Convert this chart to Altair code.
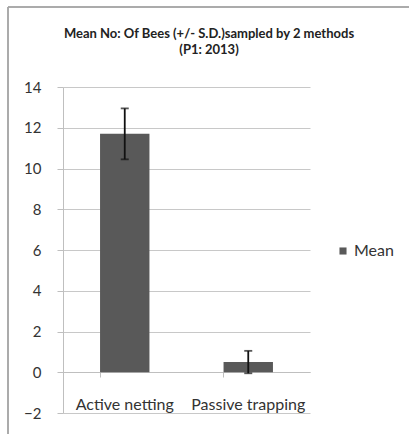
import altair as alt
import pandas as pd

categories = ["Active netting", "Passive trapping"]
means = [11.7, 0.5]
sds = [1.25, 0.55]
series_name = ["Mean", "Mean"]
y_ticks = [-2, 0, 2, 4, 6, 8, 10, 12, 14]
title_lines = ["Mean No: Of Bees (+/- S.D.)sampled by 2 methods", "(P1: 2013)"]

df = pd.DataFrame({
    "cat": categories,
    "mean": means,
    "lo": [m - s for m, s in zip(means, sds)],
    "hi": [m + s for m, s in zip(means, sds)],
    "series": series_name,
    "labely": [-1.6, -1.6],
})
t1 = pd.DataFrame({"t": [title_lines[0]]})
t2 = pd.DataFrame({"t": [title_lines[1]]})

FONT = "Lato"
W, H = 247, 326

xenc = alt.X("cat:N", sort=categories,
             scale=alt.Scale(paddingInner=0.6, paddingOuter=0.3),
             axis=alt.Axis(title=None, labels=False, offset=-41, bandPosition=0,
                           domainColor="#bfbfbf", tickColor="#bfbfbf", tickSize=5,
                           grid=False))
yscale = alt.Scale(domain=[-2, 14], nice=False)

bars = alt.Chart(df).mark_bar(color="#595959").encode(
    x=xenc,
    y=alt.Y("mean:Q", scale=yscale,
            axis=alt.Axis(title=None, values=y_ticks, grid=True, gridColor="#c8c8c8",
                          domainColor="#bfbfbf", tickColor="#bfbfbf", tickSize=6,
                          labelFont=FONT, labelFontSize=15, labelColor="#333333",
                          labelPadding=16)),
    y2=alt.Y2(datum=0),
    color=alt.Color("series:N", scale=alt.Scale(range=["#595959"]),
                    legend=alt.Legend(title=None, orient="none", legendX=272, legendY=156,
                                      symbolType="square", symbolSize=50,
                                      symbolStrokeWidth=0, labelOffset=3,
                                      labelFont=FONT, labelFontSize=16,
                                      labelColor="#333333")),
)

err = alt.Chart(df).mark_rule(color="#111111", strokeWidth=1.8).encode(
    x=alt.X("cat:N", sort=categories), y=alt.Y("lo:Q", scale=yscale), y2="hi:Q")
cap_hi = alt.Chart(df).mark_tick(color="#111111", thickness=1.8, size=8, orient="horizontal").encode(
    x=alt.X("cat:N", sort=categories), y=alt.Y("hi:Q", scale=yscale))
cap_lo = alt.Chart(df).mark_tick(color="#111111", thickness=1.8, size=8, orient="horizontal").encode(
    x=alt.X("cat:N", sort=categories), y=alt.Y("lo:Q", scale=yscale))

labels = alt.Chart(df).mark_text(font=FONT, fontSize=16, color="#333333").encode(
    x=alt.X("cat:N", sort=categories), y=alt.Y("labely:Q", scale=yscale), text="cat:N")

title1 = alt.Chart(t1).mark_text(font=FONT, fontSize=13, fontWeight="bold", color="#222222",
                                 clip=False).encode(
    x=alt.value(146), y=alt.value(-53), text="t:N")
title2 = alt.Chart(t2).mark_text(font=FONT, fontSize=13, fontWeight="bold", color="#222222",
                                 clip=False).encode(
    x=alt.value(146), y=alt.value(-37), text="t:N")

frame_left = alt.Chart(df).mark_rule(color="#a6a6a6", strokeWidth=1.5, clip=False).encode(
    x=alt.value(-55), y=alt.value(-80), y2=alt.value(H + 30))
frame_top = alt.Chart(df).mark_rule(color="#a6a6a6", strokeWidth=1.5, clip=False).encode(
    x=alt.value(-55), x2=alt.value(W + 110), y=alt.value(-80))

chart = alt.layer(bars, err, cap_hi, cap_lo, labels, title1, title2, frame_left, frame_top).properties(
    width=W, height=H,
    autosize=alt.AutoSizeParams(type="none"),
    padding={"left": 63, "top": 87, "right": 99, "bottom": 21},
).configure_view(stroke=None).configure_axisY(labelPadding=16, tickSize=6)

chart.save("out.html", embed_options={"renderer": "svg", "actions": False})
